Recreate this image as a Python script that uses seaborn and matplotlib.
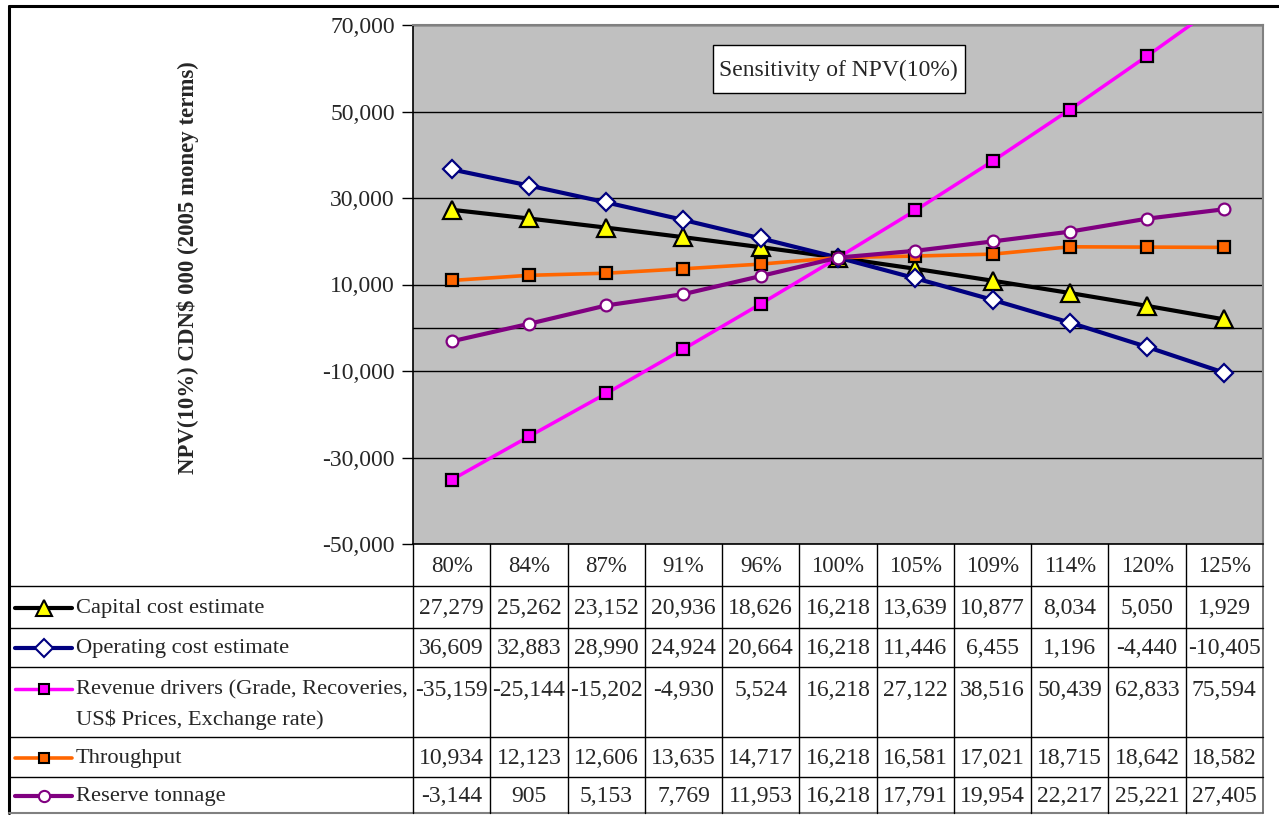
import matplotlib
matplotlib.use("Agg")
import matplotlib.pyplot as plt
from matplotlib.patches import Rectangle
import seaborn as sns
import pandas as pd

# ---------------- data ----------------
categories = ["80%", "84%", "87%", "91%", "96%", "100%", "105%", "109%", "114%", "120%", "125%"]
capital_cost = [27279, 25262, 23152, 20936, 18626, 16218, 13639, 10877, 8034, 5050, 1929]
operating_cost = [36609, 32883, 28990, 24924, 20664, 16218, 11446, 6455, 1196, -4440, -10405]
revenue_drivers = [-35159, -25144, -15202, -4930, 5524, 16218, 27122, 38516, 50439, 62833, 75594]
throughput = [10934, 12123, 12606, 13635, 14717, 16218, 16581, 17021, 18715, 18642, 18582]
reserve_tonnage = [-3144, 905, 5153, 7769, 11953, 16218, 17791, 19954, 22217, 25221, 27405]
series_names = ["Capital cost estimate", "Operating cost estimate",
                "Revenue drivers (Grade, Recoveries,\nUS$ Prices, Exchange rate)",
                "Throughput", "Reserve tonnage"]
y_ticks = [-50000, -30000, -10000, 10000, 30000, 50000, 70000]
title = "Sensitivity of NPV(10%)"
y_label = "NPV(10%) CDN$ 000 (2005 money terms)"

all_values = [capital_cost, operating_cost, revenue_drivers, throughput, reserve_tonnage]

styles = [
    dict(color="black", marker="^", mfc="#FFFF00", mec="black", ms=12.5, lw=3.0),
    dict(color="#000080", marker="D", mfc="white", mec="#000080", ms=9.5, lw=3.0),
    dict(color="#FF00FF", marker="s", mfc="#FF00FF", mec="black", ms=8, lw=2.5),
    dict(color="#FF6600", marker="s", mfc="#FF6600", mec="black", ms=8, lw=2.6),
    dict(color="#800080", marker="o", mfc="white", mec="#800080", ms=8.5, lw=3.0),
]

rows = []
for name, vals in zip(series_names, all_values):
    for i, (c, v) in enumerate(zip(categories, vals)):
        rows.append(dict(series=name, pos=i, category=c, npv=v))
df = pd.DataFrame(rows)

# ---------------- figure ----------------
sns.set_theme(style="white")
plt.rcParams["font.family"] = ["Liberation Serif", "DejaVu Serif"]
FS = 16.2
FSN = 17

W, H = 1279, 815
fig = plt.figure(figsize=(W / 100, H / 100), dpi=100)
fig.patch.set_facecolor("white")

# pixel-coordinate background axes for frame & data table
bg = fig.add_axes([0, 0, 1, 1])
bg.set_xlim(0, W)
bg.set_ylim(H, 0)
bg.axis("off")

PL, PR, PT, PB = 413, 1263, 25, 544
ax = fig.add_axes([PL / W, (H - PB) / H, (PR - PL) / W, (PB - PT) / H])
ax.set_facecolor("#C0C0C0")

for (name, vals), st in zip(zip(series_names, all_values), styles):
    sub = df[df["series"] == name]
    sns.lineplot(data=sub, x="pos", y="npv", ax=ax, color=st["color"], lw=st["lw"],
                 marker=st["marker"], markerfacecolor=st["mfc"], markeredgecolor=st["mec"],
                 markersize=st["ms"], markeredgewidth=1.6, legend=False, zorder=3)

ax.set_xlim(-0.5, len(categories) - 0.5)
ax.set_ylim(-50000, 70000)
ax.set_yticks(y_ticks)
ax.set_yticklabels([f"{t:,}" for t in y_ticks], fontsize=FSN)
ax.set_xticks([])
ax.set_xlabel("")
ax.set_ylabel("")
ax.tick_params(axis="y", direction="out", length=8, width=1, color="black", pad=5, left=True)
ax.yaxis.grid(True, color="black", lw=1)
ax.set_axisbelow(True)
ax.axhline(0, color="black", lw=1, zorder=1)
for s in ["top", "right"]:
    ax.spines[s].set_color("#808080")
    ax.spines[s].set_linewidth(1.5)
for s in ["left", "bottom"]:
    ax.spines[s].set_color("black")
    ax.spines[s].set_linewidth(1.2)

# title box
ax.add_patch(Rectangle((0.353, 0.869), 0.296, 0.0925, transform=ax.transAxes,
                       facecolor="white", edgecolor="black", lw=1, zorder=5))
ax.text(0.501, 0.912, title, transform=ax.transAxes, ha="center", va="center",
        fontsize=FSN, zorder=6)

# y label
fig.text(188 / W, 1 - 268 / H, y_label, rotation=90, ha="center", va="center",
         fontsize=16.5, fontweight="bold")

# ---------------- data table ----------------
colw = (PR - PL) / len(categories)
row_lines = [586, 628, 667, 737, 777]
row_text_y = [609, 649, 690, 759, 797]
TB = 813

# outer frame
bg.plot([9, 9], [6, TB], color="black", lw=2.2)
bg.plot([9, W], [6, 6], color="black", lw=2.2)
bg.plot([9, PR], [TB, TB], color="#808080", lw=1.5)
bg.plot([PR, PR], [PB, TB], color="#606060", lw=1.2)
for yl in row_lines:
    bg.plot([9, PR], [yl, yl], color="black", lw=1)
for k in range(len(categories)):
    xk = PL + k * colw
    bg.plot([xk, xk], [PB, TB], color="black", lw=1)
    bg.text(xk + colw / 2, 567, categories[k], ha="center", va="center", fontsize=16.5)

for r, (name, vals, st) in enumerate(zip(series_names, all_values, styles)):
    ty = row_text_y[r]
    for k, v in enumerate(vals):
        bg.text(PL + k * colw + colw / 2, ty, f"{v:,}", ha="center", va="center", fontsize=FSN)
    bg.plot([15, 72], [ty - 1, ty - 1], color=st["color"], lw=st["lw"])
    bg.plot([43.5], [ty - 1], marker=st["marker"], mfc=st["mfc"], mec=st["mec"],
            ms=st["ms"] * 0.95, mew=1.5, color=st["color"])
    lines = name.split("\n")
    for j, ln in enumerate(lines):
        bg.text(76, ty + j * 30, ln, ha="left", va="center", fontsize=FS)

fig.savefig("out.png", dpi=100)
